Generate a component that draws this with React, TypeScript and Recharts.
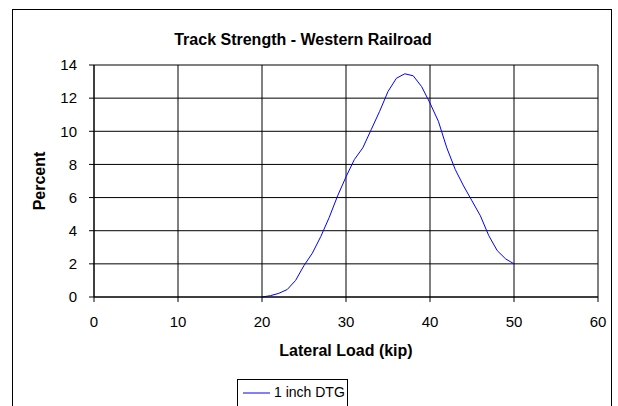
import React from "react";
import { LineChart, Line, XAxis, YAxis, CartesianGrid, Legend } from "recharts";

const lateralLoad = [20, 21, 22, 23, 24, 25, 26, 27, 28, 29, 30, 31, 32, 33, 34, 35, 36, 37, 38, 39, 40, 41, 42, 43, 44, 45, 46, 47, 48, 49, 50];
const percentDTG = [0, 0.08, 0.22, 0.45, 1.0, 1.9, 2.65, 3.65, 4.8, 6.1, 7.25, 8.3, 9.0, 10.1, 11.2, 12.4, 13.2, 13.47, 13.35, 12.7, 11.7, 10.6, 9.0, 7.7, 6.7, 5.8, 4.9, 3.7, 2.8, 2.3, 2.0];
const xTicks = [0, 10, 20, 30, 40, 50, 60];
const yTicks = [0, 2, 4, 6, 8, 10, 12, 14];
const seriesName = "1 inch DTG";
const chartTitle = "Track Strength - Western Railroad";
const xTitle = "Lateral Load (kip)";
const yTitle = "Percent";

const data = lateralLoad.map((x, i) => ({ x, y: percentDTG[i] }));

const FONT = "'Liberation Sans', Arial, Helvetica, sans-serif";

const LegendBox = () => (
  <div
    style={{
      position: "absolute",
      left: 237,
      top: 379,
      width: 111,
      height: 40,
      border: "1px solid #000",
      background: "#fff",
      boxSizing: "border-box",
      fontFamily: FONT,
      fontSize: 14,
      display: "flex",
      alignItems: "flex-start",
      paddingTop: 4,
    }}
  >
    <svg width={31} height={16} style={{ marginLeft: 5 }}>
      <line x1={0} y1={9} x2={27} y2={9} stroke="#0000FF" strokeWidth={1} />
    </svg>
    <span>{seriesName}</span>
  </div>
);

export default function App() {
  return (
    <div style={{ position: "absolute", left: 0, top: 0, width: 618, height: 406, background: "#fff", overflow: "hidden", fontFamily: FONT }}>
      <div
        style={{
          position: "absolute",
          left: 12,
          top: 9,
          width: 600,
          height: 420,
          border: "1px solid #000",
          boxSizing: "border-box",
        }}
      />
      <div
        style={{
          position: "absolute",
          left: 0,
          width: 606,
          top: 30,
          textAlign: "center",
          fontWeight: "bold",
          fontSize: 16,
          lineHeight: "20px",
        }}
      >
        {chartTitle}
      </div>
      <div
        style={{
          position: "absolute",
          left: 94,
          width: 504,
          top: 341,
          textAlign: "center",
          fontWeight: "bold",
          fontSize: 16,
          lineHeight: "20px",
        }}
      >
        {xTitle}
      </div>
      <div
        style={{
          position: "absolute",
          left: 40,
          top: 181,
          transform: "translate(-50%, -50%) rotate(-90deg)",
          fontWeight: "bold",
          fontSize: 16,
          lineHeight: "20px",
          whiteSpace: "nowrap",
        }}
      >
        {yTitle}
      </div>
      <div style={{ position: "absolute", left: 0, top: 0 }}>
        <LineChart width={618} height={406} data={data} margin={{ top: 65, right: 20, left: 0, bottom: 79 }}>
          <CartesianGrid stroke="#000" strokeWidth={1} />
          <XAxis
            dataKey="x"
            type="number"
            domain={[0, 60]}
            ticks={xTicks}
            height={30}
            tickSize={5}
            tickMargin={14}
            stroke="#000"
            tick={{ fill: "#000", fontSize: 15, fontFamily: FONT }}
            interval={0}
          />
          <YAxis
            type="number"
            domain={[0, 14]}
            ticks={yTicks}
            width={94}
            tickSize={5}
            tickMargin={12}
            stroke="#000"
            tick={{ fill: "#000", fontSize: 15, fontFamily: FONT }}
            interval={0}
          />
          <Legend content={() => null} />
          <Line
            dataKey="y"
            name={seriesName}
            type="linear"
            stroke="#0000FF"
            strokeWidth={1}
            dot={false}
            isAnimationActive={false}
          />
        </LineChart>
      </div>
      <LegendBox />
    </div>
  );
}
